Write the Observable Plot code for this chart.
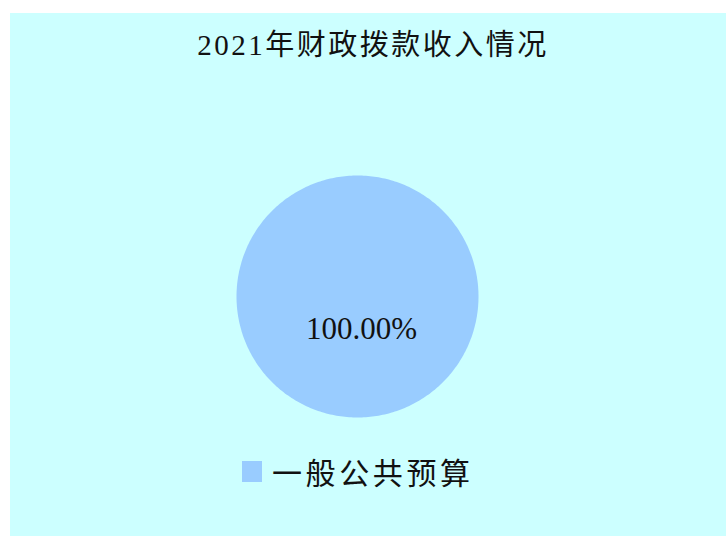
<!DOCTYPE html>
<html>
<head>
<meta charset="utf-8">
<script src="https://cdn.jsdelivr.net/npm/d3@7"></script>
<script src="https://cdn.jsdelivr.net/npm/@observablehq/plot@0.6"></script>
<style>
  html, body { margin: 0; padding: 0; background: #ffffff; }
  #page { position: relative; width: 727px; height: 536px; background: #ffffff; overflow: hidden; }
  #panel { position: absolute; left: 10px; top: 13px; width: 716px; height: 523px; background: #CCFFFF; }
  #title { position: absolute; left: 10px; width: 716px; top: 27px; text-align: center;
           font-family: "Liberation Serif", "Noto Sans CJK SC", serif; font-size: 29px; letter-spacing: 2.5px;
           color: #111; line-height: 36px; padding-left: 10px; box-sizing: border-box; }
  #chart { position: absolute; left: 10px; top: 170px; }
  #legend { position: absolute; left: 242px; top: 453px; display: flex; align-items: center;
            font-family: "Noto Sans CJK SC", sans-serif; font-size: 30px; letter-spacing: 3.6px; color: #111; line-height: 36px; }
  #legend .sw { width: 20px; height: 21px; margin-right: 10px; }
</style>
</head>
<body>
<div id="page">
  <div id="panel"></div>
  <div id="title"></div>
  <div id="chart"></div>
  <div id="legend"></div>
</div>
<script>
const title = "2021年财政拨款收入情况";
const categories = ["一般公共预算"];
const values = [100];
const percentLabels = ["100.00%"];
const colors = ["#99CCFF"];

document.getElementById("title").textContent = title;

const pie = d3.pie().sort(null)(values).map((s, i) => ({...s, key: categories[i], label: percentLabels[i]}));

const pts = [];
for (const s of pie) {
  const full = s.endAngle - s.startAngle >= 2 * Math.PI - 1e-6;
  if (!full) pts.push({key: s.key, x: 0, y: 0});
  const n = 360;
  for (let k = 0; k <= n; k++) {
    const a = s.startAngle + (s.endAngle - s.startAngle) * k / n;
    pts.push({key: s.key, x: Math.sin(a), y: Math.cos(a)});
  }
}
const labelR = 0.27;

const cx = 347, cy = 126, R = 121;
const chart = Plot.plot({
  width: 716,
  height: 260,
  margin: 0,
  style: {background: "transparent", overflow: "visible"},
  x: {domain: [-1, 1], range: [cx - R, cx + R], axis: null},
  y: {domain: [-1, 1], range: [cy + R, cy - R], axis: null},
  color: {domain: categories, range: colors},
  marks: [
    Plot.line(pts, {x: "x", y: "y", z: "key", fill: "key", stroke: "none", curve: "linear"}),
    Plot.text(pie, {
      x: d => labelR * Math.sin((d.startAngle + d.endAngle) / 2),
      y: d => labelR * Math.cos((d.startAngle + d.endAngle) / 2),
      text: "label", dx: 4,
      fontSize: 31, fill: "#111",
      fontFamily: "Liberation Serif, Noto Sans CJK SC, serif"
    })
  ]
});
document.getElementById("chart").appendChild(chart);

const legend = document.getElementById("legend");
categories.forEach((c, i) => {
  const sw = document.createElement("div");
  sw.className = "sw";
  sw.style.background = colors[i];
  const t = document.createElement("span");
  t.textContent = c;
  legend.appendChild(sw);
  legend.appendChild(t);
});
</script>
</body>
</html>
